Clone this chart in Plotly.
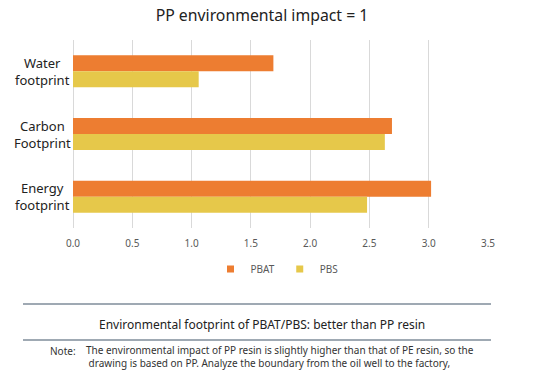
import plotly.graph_objects as go

categories = ["Water<br>footprint", "Carbon<br>Footprint", "Energy<br>footprint"]
pbat = [1.69, 2.69, 3.02]
pbs = [1.06, 2.63, 2.48]
series_names = ["PBAT", "PBS"]
series_colors = ["#ED7D31", "#E6C84A"]
x_ticks = [0, 0.5, 1.0, 1.5, 2.0, 2.5, 3.0, 3.5]
x_tick_labels = ["0.0", "0.5", "1.0", "1.5", "2.0", "2.5", "3.0", "3.5"]

W, H = 550, 370
L, R, T, B = 73, 488, 40, 228
FONT = "Noto Sans"


def px(x):
    return (x - L) / (R - L)


def py(y):
    return (B - y) / (B - T)


fig = go.Figure()
for name, vals, col in zip(series_names, [pbat, pbs], series_colors):
    fig.add_trace(go.Bar(y=categories, x=vals, name=name, orientation="h",
                         marker=dict(color=col, line=dict(width=0)), showlegend=False))
for name, col in zip(series_names, series_colors):
    fig.add_trace(go.Scatter(x=[None], y=[None], mode="markers", name=name,
                             marker=dict(symbol="square", size=7, color=col)))

fig.update_layout(
    width=W, height=H,
    margin=dict(l=L, r=W - R, t=T, b=H - B, pad=0, autoexpand=False),
    paper_bgcolor="white", plot_bgcolor="white",
    font=dict(family=FONT, color="#333333"),
    barmode="group", bargap=0.49, bargroupgap=0,
    title=dict(text="PP environmental impact = 1", x=262 / W, xanchor="center",
               y=1 - 15 / H, yanchor="middle",
               font=dict(size=15.8, color="#222222", family=FONT)),
    legend=dict(orientation="h", x=277 / W, xanchor="center", xref="container",
                y=1 - 269 / H, yanchor="middle", yref="container",
                font=dict(size=10, color="#595959"), itemwidth=30,
                traceorder="normal", tracegroupgap=0),
    showlegend=True,
)
fig.update_xaxes(range=[0, 3.5], tickvals=x_ticks, ticktext=x_tick_labels,
                 showgrid=True, gridcolor="#D9D9D9", gridwidth=1,
                 zeroline=True, zerolinecolor="#D9D9D9", zerolinewidth=1,
                 showline=False, ticks="", tickfont=dict(size=10, color="#595959"),
                 ticklabelstandoff=8)
fig.update_yaxes(autorange="reversed", showticklabels=False, showgrid=False,
                 zeroline=False, showline=False, ticks="")

for c in categories:
    fig.add_annotation(x=px(42), xref="paper", y=c, yref="y", text=c, showarrow=False,
                       xanchor="center", yanchor="middle", align="center",
                       font=dict(size=13, color="#222222", family=FONT))

for yy in (304, 340):
    fig.add_shape(type="line", xref="paper", yref="paper", x0=px(23), x1=px(491),
                  y0=py(yy), y1=py(yy), line=dict(color="#7F8C9A", width=1.5))

fig.add_annotation(x=px(262), xref="paper", y=py(324), yref="paper",
                   text="Environmental footprint of PBAT/PBS: better than PP resin",
                   showarrow=False, xanchor="center", yanchor="middle",
                   font=dict(size=12, color="#222222", family=FONT))
fig.add_annotation(x=px(48), xref="paper", y=py(351), yref="paper", text="Note:",
                   showarrow=False, xanchor="left", yanchor="middle",
                   font=dict(size=10, color="#333333", family=FONT))
fig.add_annotation(x=px(84), xref="paper", y=py(356.5), yref="paper",
                   text="The environmental impact of PP resin is slightly higher than that of PE resin, so the<br>"
                        " drawing is based on PP. Analyze the boundary from the oil well to the factory,",
                   showarrow=False, xanchor="left", yanchor="middle", align="left",
                   font=dict(size=10, color="#333333", family=FONT))

fig.write_html("out.html", config={"displayModeBar": False},
               post_script="document.body.style.margin='0px';")
